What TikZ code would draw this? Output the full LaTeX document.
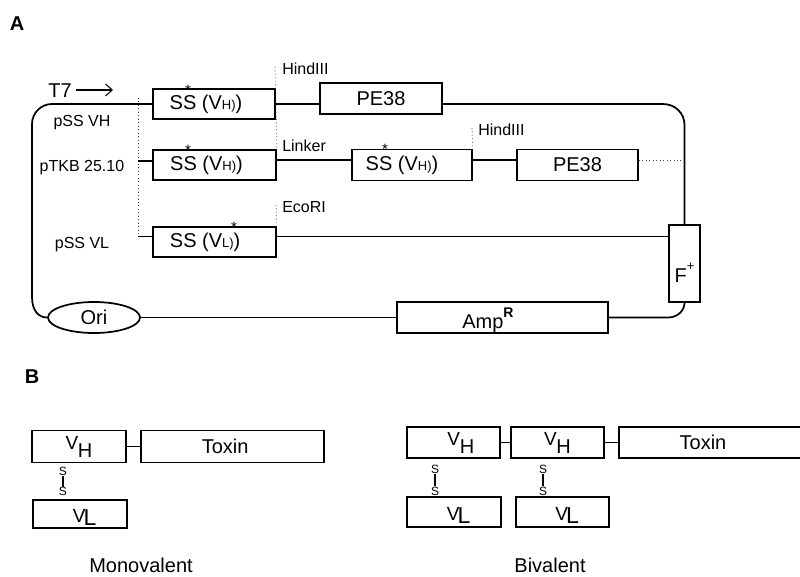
\documentclass[tikz,border=0pt]{standalone}
\usepackage{fontspec}
\setmainfont{Liberation Sans}
\usetikzlibrary{arrows.meta,shapes.geometric}
\newcommand\fs[1]{\fontsize{\fpeval{#1*0.75}pt}{\fpeval{#1*0.9}pt}\selectfont}
\newcommand\ink[2]{\raisebox{#1}[0pt][0pt]{#2}}
\newcommand\myVH{V\kern-0.3pt\raisebox{-6pt}{\fs{20}H}}
\newcommand\myVL{\ink{-6.2pt}{V\kern-1.5pt\raisebox{-2.7pt}{\fs{23}L}}}
\begin{document}
\begin{tikzpicture}[x=0.75pt,y=-0.75pt,
 box/.style={draw, line width=1.3pt, inner sep=0pt, rectangle, font=\fs{20}},
 sz/.style 2 args={minimum width=#1*0.75pt, minimum height=#2*0.75pt},
 wire/.style={line width=1.3pt},
 heavywire/.style={line width=2pt},
 thinwire/.style={line width=0.9pt},
 dots/.style={line width=0.6pt, dotted, black!75},
 lbl/.style={inner sep=0pt, font=\fs{16}},
 big/.style={inner sep=0pt, font=\fs{20}},
 star/.style={inner sep=0pt, font=\fs{15}},
 sss/.style={inner sep=0pt, font=\fs{12}},
 panel/.style={inner sep=0pt, font=\bfseries\fs{20}}]
\useasboundingbox (0,0) rectangle (800,576);

% ---------------- Panel A ----------------
\node[panel, anchor=base] (labA) at (17,30) {A};
\node[big, anchor=base] (t7) at (60,97) {T7};
\coordinate (t7tail) at (76,90);
\coordinate (t7tip) at (113,90);
\draw[line width=0.8pt, -{Straight Barb[length=5pt,width=9pt]}] (t7tail) -- (t7tip);

\node[box, sz={122}{30}] (ss1) at (214,104) {\hspace*{-12pt}SS (V{\fs{13}H)})};
\node[box, sz={122}{31}] (pe1) at (381,98.5) {PE38};
\node[box, sz={123}{30}] (ss2) at (214.5,165) {\hspace*{-12pt}SS (V{\fs{13}H)})};
\node[box, sz={120}{31}] (ss3) at (412,165) {\hspace*{-15pt}SS (V{\fs{13}H)})};
\node[box, sz={121}{31}] (pe2) at (577.5,165) {PE38};
\node[box, sz={123}{30}] (ssl) at (214.5,242) {\hspace*{-14pt}SS (V{\fs{13}L)})};
\node[box, sz={31}{77}] (fplus) at (684.5,263.5) {\ink{-14.6pt}{F\raisebox{9pt}{\fs{13}+}}};
\node[box, sz={211}{31}] (amp) at (502.5,317.5) {\hspace*{-21.8pt}\ink{-7.9pt}{Amp\raisebox{8.2pt}{\fs{14}\bfseries R}}};
\node[box, ellipse, sz={92}{31}] (ori) at (94,317.5) {Ori};

\node[star] (st1) at (188,90) {\ink{-4pt}{*}};
\node[star] (st2) at (188,150) {\ink{-4pt}{*}};
\node[star] (st3) at (385,149) {\ink{-4pt}{*}};
\node[star] (st4) at (234,227) {\ink{-4pt}{*}};

\node[lbl, anchor=base] (lpssvh) at (82,126) {pSS VH};
\node[lbl, anchor=base] (lptkb) at (82,171) {pTKB 25.10};
\node[lbl, anchor=base] (lpssvl) at (82,248) {pSS VL};
\node[lbl, anchor=base west] (lhind1) at (282,74) {HindIII};
\node[lbl, anchor=base west] (llink) at (282,151) {Linker};
\node[lbl, anchor=base west] (lhind2) at (478,135) {HindIII};
\node[lbl, anchor=base west] (leco) at (282,212) {EcoRI};

\coordinate (trunkT) at (138,98);
\coordinate (trunkB) at (138,236.5);
\coordinate (r2j) at (138,161);
\coordinate (h1top) at (275,67);
\coordinate (h2top) at (472,128);
\coordinate (ecotop) at (276,205);
\coordinate (rightj) at (684.5,160);

\draw[dots] (trunkT) -- (trunkB);
\draw[dots] (h1top) -- (ss2.north east);
\draw[dots] (h2top) -- (ss3.north east);
\draw[dots] (ecotop) -- (ssl.north east);
\draw[dots] ([yshift=3.75pt]pe2.east) -- (rightj);

% plasmid loop
\draw[wire] (ss1.west) -- (52,104) .. controls (41,104) and (32,113) .. (32,124)
  -- (32,297) .. controls (32,310) and (38,317.5) .. (ori.west);
\draw[wire] (ori.east) -- (amp.west);
\draw[wire] (amp.east) -- (668,317.5) .. controls (677,317.5) and (684.5,311) .. (fplus.south);
\draw[wire] (fplus.north) -- (684.5,125) .. controls (684.5,113) and (675,104) .. (663,104)
  -- (pe1.east |- ss1.east);
\draw[heavywire] (ss1.east) -- (ss1.east -| pe1.west);

% row 2
\draw[wire] (r2j) -- (r2j -| ss2.west);
\draw[wire] ([yshift=3.75pt]ss2.east) -- ([yshift=3.75pt]ss3.west);
\draw[wire] ([yshift=3.75pt]ss3.east) -- ([yshift=3.75pt]pe2.west);
% row 3
\draw[wire] (trunkB) -- (trunkB -| ssl.west);
\draw[wire] (trunkB -| ssl.east) -- (trunkB -| fplus.west);

% ---------------- Panel B ----------------
\node[panel, anchor=base] (labB) at (32,383) {B};

\node[box, sz={94}{32}] (mvh) at (79,446.5) {\fs{19}\myVH};
\node[box, sz={183}{32}] (mtox) at (232.5,446.5) {\hspace*{-11pt}Toxin};
\node[box, sz={94}{28}] (mvl) at (80,514) {\hspace*{7pt}\fs{19}\myVL};
\node[sss] (sa1) at (63,471.5) {S};
\node[sss] (sb1) at (63,491.5) {S};
\draw[thinwire] (sa1.south) -- (sb1.north);
\draw[wire] (mvh) -- (mtox);
\node[big, anchor=base] (lmono) at (141,572) {Monovalent};

\node[box, sz={93}{31}] (bvh1) at (453.5,442.5) {\hspace*{11pt}\fs{19}\myVH};
\node[box, sz={93}{31}] (bvh2) at (557.5,442.5) {\fs{19}\myVH};
\node[box, sz={184}{31}] (btox) at (711,442.5) {\hspace*{-12pt}Toxin};
\node[box, sz={94}{30}] (bvl1) at (454,512) {\hspace*{7pt}\fs{19}\myVL};
\node[box, sz={93}{30}] (bvl2) at (562.5,512) {\hspace*{7pt}\fs{19}\myVL};
\node[sss] (sa2) at (435,469) {S};
\node[sss] (sb2) at (435,491) {S};
\node[sss] (sa3) at (543,469) {S};
\node[sss] (sb3) at (543,491) {S};
\draw[thinwire] (sa2.south) -- (sb2.north);
\draw[thinwire] (sa3.south) -- (sb3.north);
\draw[wire] (bvh1) -- (bvh2);
\draw[wire] (bvh2) -- (btox);
\node[big, anchor=base] (lbiv) at (550,572) {Bivalent};
\end{tikzpicture}
\end{document}
